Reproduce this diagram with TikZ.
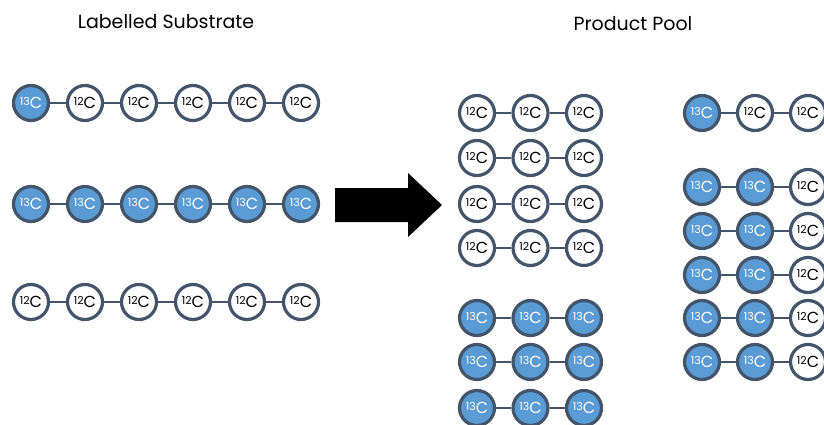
\documentclass[tikz,border=0pt]{standalone}
\usepackage{fontspec}
\setmainfont{Poppins}
\definecolor{edge}{HTML}{44546A}
\definecolor{lblue}{HTML}{5B9BD5}
\newcommand\iso[1]{{\fontsize{11}{11}\selectfont\raisebox{0.35em}{#1}}C}
\tikzset{
  atom/.style={circle, draw=edge, line width=3.2pt, minimum size=35pt, inner sep=0pt,
    font=\fontsize{16}{16}\selectfont},
  heavy/.style={atom, fill=lblue, text=white, node contents={\iso{13}}},
  light/.style={atom, fill=white, text=black, node contents={\iso{12}}},
  bond/.style={draw=edge, line width=2pt},
  title/.style={font=\fontsize{19}{19}\selectfont, text=black}
}
% \molrow{name}{x0}{y}{dx}{list of atom styles}
\newcommand\molrow[5]{%
  \foreach \s [count=\k] in {#5} {
    \node[name=#1-\k, at={({#2+(\k-1)*#4},#3)}, \s];
    \ifnum\k>1
      \pgfmathtruncatemacro\prev{\k-1}
      \draw[bond] (#1-\prev) -- (#1-\k);
    \fi
  }%
}
\begin{document}
\begin{tikzpicture}[x=1pt, y=-1pt]
  \useasboundingbox (0,0) rectangle (824,425);
  \clip (0,0) rectangle (824,425);
  % titles
  \node[title] (subtitle) at (166,22) {Labelled Substrate};
  \node[title] (pooltitle) at (633,24) {Product Pool};
  % labelled substrate molecules
  \molrow{sa}{31}{103}{54}{heavy,light,light,light,light,light}
  \molrow{sb}{31}{204}{54}{heavy,heavy,heavy,heavy,heavy,heavy}
  \molrow{sc}{31}{302}{54}{light,light,light,light,light,light}
  % conversion arrow
  \fill[black] (335,188) -- (408,188) -- (408,173) -- (442,205) -- (408,237)
    -- (408,222) -- (335,222) -- cycle;
  % product pool, unlabelled and fully labelled fragments
  \molrow{pa}{477}{113}{53.5}{light,light,light}
  \molrow{pb}{477}{158}{53.5}{light,light,light}
  \molrow{pc}{477}{204}{53.5}{light,light,light}
  \molrow{pd}{477}{248}{53.5}{light,light,light}
  \molrow{pe}{477}{318}{53.5}{heavy,heavy,heavy}
  \molrow{pf}{477}{362}{53.5}{heavy,heavy,heavy}
  \molrow{pg}{477}{408}{53.5}{heavy,heavy,heavy}
  % product pool, partially labelled fragments
  \molrow{qa}{702}{113}{53}{heavy,light,light}
  \molrow{qb}{702}{187}{53}{heavy,heavy,light}
  \molrow{qc}{702}{231}{53}{heavy,heavy,light}
  \molrow{qd}{702}{275}{53}{heavy,heavy,light}
  \molrow{qe}{702}{318}{53}{heavy,heavy,light}
  \molrow{qf}{702}{362}{53}{heavy,heavy,light}
\end{tikzpicture}
\end{document}
